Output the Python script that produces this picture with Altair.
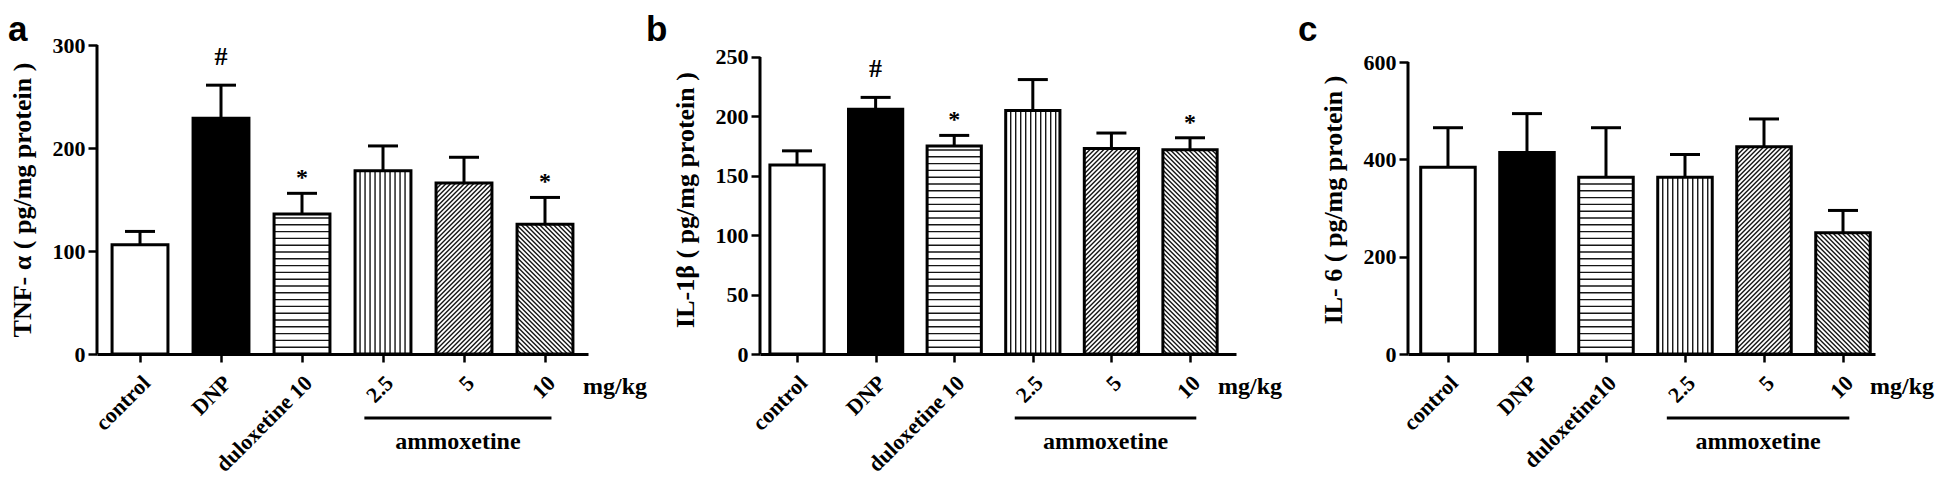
import altair as alt
import numpy as np
import pandas as pd

# ---------------- data ----------------
labels_ab = ["control", "DNP", "duloxetine 10", "2.5", "5", "10"]
labels_c = ["control", "DNP", "duloxetine10", "2.5", "5", "10"]
bar_fills = ["white", "black", "white", "white", "white", "white"]
patterns = ["none", "none", "horizontal", "vertical", "diag_up", "diag_down"]

tnf_mean = [106, 229, 136, 178, 166, 126]
tnf_sem = [13, 32, 20, 24, 25, 26]
tnf_marks = ["", "#", "*", "", "", "*"]

il1b_mean = [159, 206, 175, 205, 173, 172]
il1b_sem = [12, 10, 9, 26, 13, 10]
il1b_marks = ["", "#", "*", "", "", "*"]

il6_mean = [384, 414, 363, 363, 426, 249]
il6_sem = [81, 80, 102, 47, 57, 46]
il6_marks = ["", "", "", "", "", ""]

tnf_ticks = [0, 100, 200, 300]
il1b_ticks = [0, 50, 100, 150, 200, 250]
il6_ticks = [0, 200, 400, 600]

# ---------------- style ----------------
PLOT_H = 309
BAR_HALF = 0.345
CAP_PX = 15
SERIF = "Liberation Serif"
SANS = "Liberation Sans"


def hatch_rows(means, xmin, xmax, width, ydmax):
    """Decorative hatch segments (pattern fill) inside each bar, in data units."""
    pxx = width / (xmax - xmin)
    pxy = PLOT_H / ydmax
    rows = []
    for i, (m, pat) in enumerate(zip(means, patterns)):
        left = i - BAR_HALF
        wpx = 2 * BAR_HALF * pxx
        hpx = m * pxy
        segs = []
        if pat == "horizontal":
            for yy in np.arange(6.8, hpx - 2, 6.8):
                segs.append((0, yy, wpx, yy))
        elif pat == "vertical":
            for xx in np.arange(5.0, wpx - 1, 5.0):
                segs.append((xx, 0, xx, hpx))
        elif pat == "diag_up":
            for c in np.arange(-wpx, hpx, 4.6):
                u0 = max(0.0, -c)
                u1 = min(wpx, hpx - c)
                if u1 > u0:
                    segs.append((u0, u0 + c, u1, u1 + c))
        elif pat == "diag_down":
            for c in np.arange(4.6, wpx + hpx, 4.6):
                u0 = max(0.0, c - hpx)
                u1 = min(wpx, c)
                if u1 > u0:
                    segs.append((u0, c - u0, u1, c - u1))
        for (a, b, c2, d) in segs:
            rows.append({"hx": left + a / pxx, "hy": b / pxy,
                         "hx2": left + c2 / pxx, "hy2": d / pxy})
    return pd.DataFrame(rows)


def panel(labels, means, sems, marks, ytitle, yticks, ydmax, xmin, xmax,
          width, letter, letter_x, mgkg_x):
    n = len(labels)
    xs = list(range(n))
    pxx = width / (xmax - xmin)
    cap = CAP_PX / pxx
    df = pd.DataFrame({
        "x": xs,
        "left": [i - BAR_HALF for i in xs],
        "right": [i + BAR_HALF for i in xs],
        "mean": means,
        "top": [m + s for m, s in zip(means, sems)],
        "zero": [0] * n,
        "capl": [i - cap for i in xs],
        "capr": [i + cap for i in xs],
        "fill": bar_fills,
        "mark": marks,
    })
    xscale = alt.Scale(domain=[xmin, xmax], nice=False, zero=False)
    yscale = alt.Scale(domain=[0, ydmax], nice=False, zero=True)
    label_expr = "[" + ",".join("'" + l + "'" for l in labels) + "][datum.value]"
    xaxis = alt.Axis(values=xs, labelExpr=label_expr, title=None,
                     labelAngle=-45, labelAlign="right", labelBaseline="middle",
                     labelPadding=17, labelOffset=6, tickSize=8, grid=False,
                     labelOverlap=False, labelFlush=False, labelBound=False,
                     domainColor="black", domainWidth=3,
                     tickColor="black", tickWidth=2.5,
                     labelFont=SERIF, labelFontWeight="bold", labelFontSize=22,
                     labelColor="black")
    yaxis = alt.Axis(values=yticks, title=ytitle, domain=False, tickSize=9,
                     labelPadding=3, titlePadding=17, grid=False,
                     labelOverlap=False, labelFlush=False,
                     tickColor="black", tickWidth=2.5,
                     labelFont=SERIF, labelFontWeight="bold", labelFontSize=22,
                     labelColor="black",
                     titleFont=SERIF, titleFontWeight="bold", titleFontSize=26,
                     titleColor="black")

    def X(f):
        return alt.X(f, scale=xscale, axis=xaxis)

    def Y(f):
        return alt.Y(f, scale=yscale, axis=yaxis)

    base = alt.Chart(df)
    fill_layer = base.mark_rect(strokeWidth=0).encode(
        x=X("left:Q"), x2="right:Q",
        y=Y("mean:Q"), y2="zero:Q",
        fill=alt.Fill("fill:N", scale=None),
    )
    hatch = alt.Chart(hatch_rows(means, xmin, xmax, width, ydmax)).mark_rule(
        strokeWidth=1.4, color="#151515"
    ).encode(x=X("hx:Q"), x2="hx2:Q", y=Y("hy:Q"), y2="hy2:Q")
    err = base.mark_rule(strokeWidth=3, color="black").encode(
        x=X("x:Q"), y=Y("mean:Q"), y2="top:Q",
    )
    caps = base.mark_rule(strokeWidth=3, color="black").encode(
        x=X("capl:Q"), x2="capr:Q", y=Y("top:Q"),
    )
    border = base.mark_rect(fillOpacity=0, stroke="black", strokeWidth=3).encode(
        x=X("left:Q"), x2="right:Q", y=Y("mean:Q"), y2="zero:Q",
    )
    hashes = base.transform_filter("datum.mark == '#'").mark_text(
        dy=-20, baseline="alphabetic", fontSize=26, fontWeight="bold", font=SERIF,
        color="black"
    ).encode(x=X("x:Q"), y=Y("top:Q"), text="mark:N")
    stars = base.transform_filter("datum.mark == '*'").mark_text(
        dy=-8, baseline="alphabetic", fontSize=24, fontWeight="bold", font=SERIF,
        color="black"
    ).encode(x=X("x:Q"), y=Y("top:Q"), text="mark:N")
    yline = alt.Chart(pd.DataFrame({"a": [0], "b": [yticks[-1]]})).mark_rule(
        strokeWidth=3, color="black"
    ).encode(x=alt.value(0), y=Y("a:Q"), y2="b:Q")
    unit = alt.Chart(pd.DataFrame({"t": ["mg/kg"]})).mark_text(
        align="left", baseline="middle", fontSize=24, fontWeight="bold",
        font=SERIF, color="black"
    ).encode(x=alt.value(mgkg_x), y=alt.value(PLOT_H + 33), text="t:N")
    group_line = alt.Chart(pd.DataFrame({"a": [3 - 0.23], "b": [5 + 0.08]})).mark_rule(
        strokeWidth=3, color="black"
    ).encode(x=X("a:Q"), x2="b:Q", y=alt.value(PLOT_H + 64))
    group_text = alt.Chart(pd.DataFrame({"a": [(3 - 0.23 + 5 + 0.08) / 2],
                                         "t": ["ammoxetine"]})).mark_text(
        align="center", baseline="middle", fontSize=24, fontWeight="bold",
        font=SERIF, color="black"
    ).encode(x=X("a:Q"), y=alt.value(PLOT_H + 88), text="t:N")
    letter_mark = alt.Chart(pd.DataFrame({"t": [letter]})).mark_text(
        align="left", baseline="alphabetic", fontSize=35, fontWeight="bold",
        font=SANS, color="black"
    ).encode(x=alt.value(letter_x), y=alt.value(-4), text="t:N")

    return alt.layer(
        fill_layer, hatch, err, caps, border, hashes, stars, yline,
        unit, group_line, group_text, letter_mark
    ).properties(width=width, height=PLOT_H)


pa = panel(labels_ab, tnf_mean, tnf_sem, tnf_marks, "TNF- α ( pg/mg protein )",
           tnf_ticks, 300, -0.531, 5.531, 491, "a", -89, 486)
pb = panel(labels_ab, il1b_mean, il1b_sem, il1b_marks, "IL-1β ( pg/mg protein )",
           il1b_ticks, 260.1, -0.471, 5.585, 476, "b", -114, 458)
pc = panel(labels_c, il6_mean, il6_sem, il6_marks, "IL- 6 ( pg/mg protein )",
           il6_ticks, 635, -0.506, 5.405, 467, "c", -110, 462)

chart = alt.hconcat(pa, pb, pc, spacing=172, bounds="flush").properties(
    padding={"left": 0, "top": 5, "right": 0, "bottom": 0}
).configure_view(strokeWidth=0, stroke="transparent")

chart.save("out.html", embed_options={"renderer": "svg", "actions": False})
